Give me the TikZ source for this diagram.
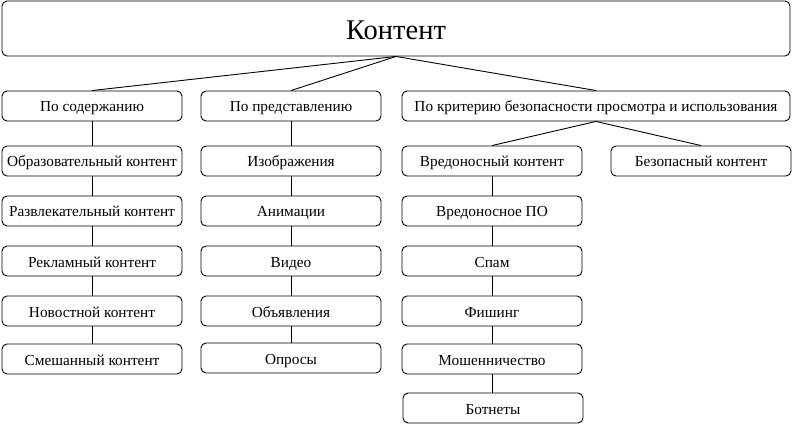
\documentclass[tikz,border=0pt]{standalone}
\usepackage{fontspec}
\setmainfont{Liberation Serif}
\begin{document}
\begin{tikzpicture}[x=1pt,y=-1pt,
  box/.style={draw, rounded corners=5pt, line width=0.9pt, minimum width=180pt, minimum height=30pt, inner sep=0pt, text height=12pt, text depth=0pt, font=\fontsize{15.3}{17}\selectfont},
  conn/.style={line width=0.9pt}]
\useasboundingbox (0,0) rectangle (793,425);
\node[box, minimum width=788pt, minimum height=55pt, text height=23pt, font=\fontsize{28.5}{31}\selectfont] (top) at (396,28.5) {Контент};
\node[box] (a) at (92,106) {По содержанию};
\node[box] (b) at (291,106) {По представлению};
\node[box, minimum width=388pt] (c) at (596,106) {По критерию безопасности просмотра и использования};
% column 1
\node[box] (a1) at (92,161) {Образовательный контент};
\node[box] (a2) at (92,211) {Развлекательный контент};
\node[box] (a3) at (92,261) {Рекламный контент};
\node[box] (a4) at (92,311) {Новостной контент};
\node[box] (a5) at (92,359) {Смешанный контент};
% column 2
\node[box] (b1) at (291,161) {Изображения};
\node[box] (b2) at (291,211) {Анимации};
\node[box] (b3) at (291,261) {Видео};
\node[box] (b4) at (291,311) {Объявления};
\node[box] (b5) at (291,358) {Опросы};
% column 3
\node[box] (c1) at (492,161) {Вредоносный контент};
\node[box] (c2) at (492,211) {Вредоносное ПО};
\node[box] (c3) at (492,261) {Спам};
\node[box] (c4) at (492,311) {Фишинг};
\node[box] (c5) at (492,359) {Мошенничество};
\node[box] (c6) at (493,408) {Ботнеты};
\node[box] (d1) at (701,161) {Безопасный контент};
% connectors
\draw[conn] (top.south) -- (a.north);
\draw[conn] (top.south) -- (b.north);
\draw[conn] (top.south) -- (c.north);
\draw[conn] (c.south) -- (c1.north);
\draw[conn] (c.south) -- (d1.north);
\draw[conn] (a.south) -- (a1.north);
\draw[conn] (a1.south) -- (a2.north);
\draw[conn] (a2.south) -- (a3.north);
\draw[conn] (a3.south) -- (a4.north);
\draw[conn] (a4.south) -- (a5.north);
\draw[conn] (b.south) -- (b1.north);
\draw[conn] (b1.south) -- (b2.north);
\draw[conn] (b2.south) -- (b3.north);
\draw[conn] (b3.south) -- (b4.north);
\draw[conn] (b4.south) -- (b5.north);
\draw[conn] (c1.south) -- (c2.north);
\draw[conn] (c2.south) -- (c3.north);
\draw[conn] (c3.south) -- (c4.north);
\draw[conn] (c4.south) -- (c5.north);
\draw[conn] (c5.south) -- (c5.south |- c6.north);
\end{tikzpicture}
\end{document}
